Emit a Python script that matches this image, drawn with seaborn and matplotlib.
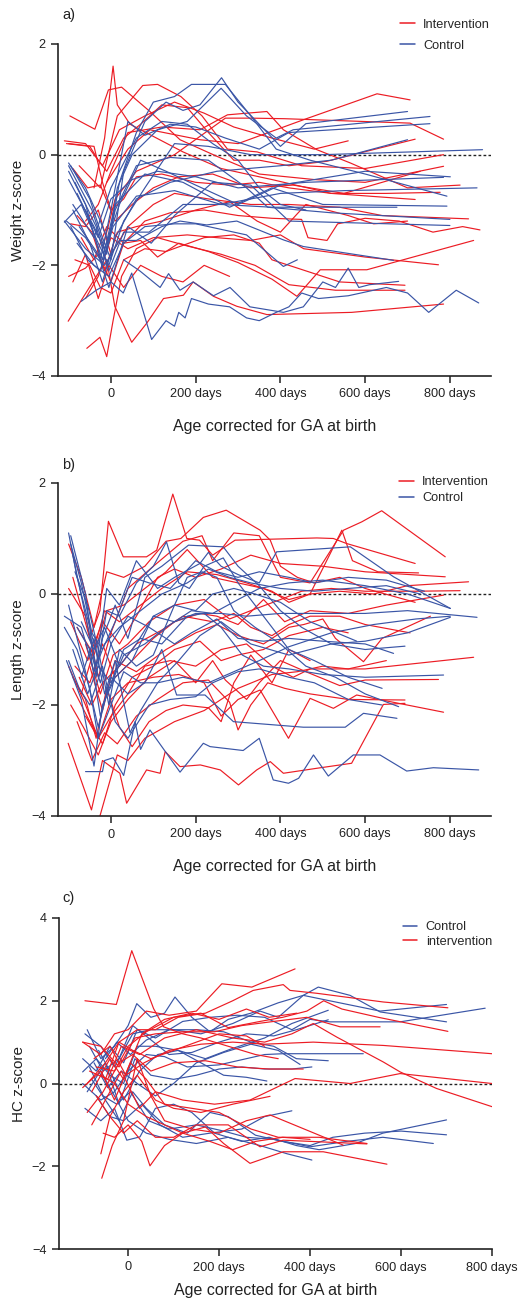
import numpy as np
import pandas as pd
import matplotlib.pyplot as plt
import seaborn as sns

sns.set_theme(style="ticks")
plt.rcParams['font.family'] = ['Liberation Sans', 'DejaVu Sans']

RED = '#EC1C24'
BLUE = '#3A55A6'

# --- a) weight z-score: (days, z) per child
weight_int = [
    [(-97, 0.70), (-38, 0.46), (-6, 1.17), (25, 1.22), (92, 0.78), (163, 0.27), (250, -0.03), (350, -0.35), (480, -0.45), (600, -0.5), (785, -0.21)],
    [(-40, -0.6), (-15, 0.3), (5, 1.6), (15, 0.9), (45, 0.55), (95, 0.35), (170, 0.05), (260, -0.25), (380, -0.45), (520, -0.7), (718, -0.81)],
    [(-75, -0.2), (-25, -0.6), (15, 0.7), (75, 1.25), (110, 1.27), (165, 1.05), (215, 0.7), (275, 0.1), (345, 0.05), (450, -0.2), (600, -0.25), (785, 0.0)],
    [(-60, -1.2), (-30, -0.9), (0, -0.3), (40, 0.4), (120, 0.5), (210, 0.45), (275, 0.72), (368, 0.78), (407, 0.45), (486, 0.09), (565, -0.15), (700, -0.6), (824, -0.55)],
    [(-20, -1.7), (10, -0.8), (60, -0.3), (150, 0.0), (270, 0.66), (330, 0.66), (410, 0.65), (706, 0.57), (785, 0.28)],
    [(-10, -0.5), (40, 0.1), (92, 0.45), (210, 0.27), (300, 0.2), (368, 0.39), (454, 0.63), (628, 1.10), (706, 0.99)],
    [(-105, 0.2), (-50, 0.15), (-30, -0.1), (-10, -0.3), (30, 0.3), (70, 0.55), (120, 0.9), (180, 0.85), (230, 0.4), (290, -0.1), (350, -0.1), (420, -0.2), (509, -0.12), (718, 0.28)],
    [(-100, 0.2), (-40, 0.15), (-20, -0.5), (0, -1.0), (30, -0.8), (60, -0.4), (120, -0.35), (200, -0.5), (280, -0.55), (350, -0.5), (420, -0.6), (520, -0.7), (650, -0.7), (777, -0.68)],
    [(-90, -0.25), (-55, -0.6), (-25, -0.55), (10, -1.2), (50, -0.9), (100, -0.6), (160, -0.4), (240, -0.35), (330, -0.6), (430, -0.55), (550, -0.7), (730, -0.30)],
    [(-95, -1.25), (-60, -1.3), (-30, -1.0), (0, -1.8), (40, -1.3), (100, -0.9), (150, -0.7), (230, -0.8), (330, -0.9), (420, -0.9), (540, -0.95), (640, -1.1), (844, -1.16)],
    [(-80, -1.1), (-45, -1.4), (-15, -2.1), (15, -1.4), (60, -1.3), (120, -1.2), (200, -1.0), (280, -0.85), (345, -1.2), (400, -1.4), (460, -0.9), (560, -1.1), (620, -1.25), (700, -1.2)],
    [(-70, -1.5), (-40, -1.9), (-10, -1.3), (30, -1.6), (80, -1.2), (140, -1.05), (220, -1.0), (300, -1.1), (380, -1.15), (450, -1.17), (465, -1.5), (510, -1.55), (535, -1.25), (600, -1.15), (680, -1.2), (760, -1.4), (830, -1.3), (871, -1.36)],
    [(-100, -2.2), (-60, -2.05), (-30, -1.8), (0, -2.3), (30, -1.6), (70, -1.55), (110, -1.85), (160, -1.6), (230, -1.75), (300, -1.95), (380, -2.25), (439, -2.56), (494, -2.08), (604, -2.08), (856, -1.55)],
    [(-101, -3.01), (-42, -2.29), (-10, -1.9), (9, -2.74), (49, -3.39), (85, -3.04), (124, -2.6), (171, -2.54), (194, -2.3), (242, -2.56), (297, -2.74), (368, -2.89), (568, -2.85), (785, -2.70)],
    [(-57, -3.5), (-26, -3.3), (-10, -3.65), (5, -3.0), (25, -2.2), (60, -1.7), (110, -1.5), (180, -1.65), (260, -1.8), (340, -2.0), (420, -2.35), (530, -2.45), (694, -2.45)],
    [(-85, -1.9), (-50, -2.0), (-25, -2.4), (0, -2.5), (30, -1.9), (80, -1.7), (130, -1.75), (220, -1.5), (290, -1.45), (350, -1.6), (380, -1.9), (460, -2.1), (540, -2.3), (694, -2.36)],
    [(-60, -2.6), (-30, -2.2), (0, -1.5), (40, -1.7), (100, -1.5), (180, -1.45), (250, -1.5), (330, -1.55), (400, -1.45), (455, -1.7), (600, -1.85), (773, -1.99)],
    [(-110, 0.25), (-60, 0.2), (-20, -0.2), (20, 0.45), (80, 0.7), (150, 0.95), (220, 0.75), (290, 0.5), (380, 0.3), (480, 0.1), (560, 0.25)],
    [(-90, -2.3), (-60, -1.8), (-30, -2.6), (-5, -2.0), (30, -2.4), (70, -2.0), (120, -2.2), (170, -2.3), (220, -2.0), (280, -2.2)],
]
weight_ctl = [
    [(-100, -0.15), (-60, -0.6), (-25, -1.2), (-5, -1.6), (20, -0.5), (60, 0.4), (100, 0.95), (150, 1.05), (190, 1.27), (270, 1.27), (330, 0.7), (390, 0.1), (470, -0.1), (600, -0.35), (793, -0.75)],
    [(-95, -0.2), (-50, -0.8), (-20, -1.5), (0, -1.9), (30, -0.3), (80, 0.6), (130, 0.95), (170, 0.8), (210, 0.9), (261, 1.39), (300, 0.95), (350, 0.55), (400, 0.15), (460, 0.56), (700, 0.78)],
    [(-100, -0.45), (-40, -1.3), (-10, -1.8), (15, -0.6), (50, 0.0), (110, 0.45), (180, 0.6), (260, 1.2), (320, 0.7), (390, 0.3), (430, 0.45), (753, 0.69)],
    [(-105, -1.2), (-60, -1.5), (-25, -1.9), (0, -1.0), (40, 0.6), (80, 0.35), (140, 0.55), (200, 0.5), (270, 0.3), (350, 0.1), (420, 0.4), (753, 0.56)],
    [(-110, -1.22), (-70, -0.9), (-30, -1.6), (-5, -2.0), (30, -1.2), (80, -0.6), (150, 0.2), (230, 0.15), (330, 0.0), (500, 0.0), (877, 0.09)],
    [(-90, -1.0), (-50, -1.6), (-20, -2.3), (10, -1.5), (60, -0.8), (140, -0.5), (250, -0.3), (400, -0.2), (520, -0.1), (700, 0.27)],
    [(-100, -0.2), (-45, -1.0), (-15, -1.7), (20, -0.9), (70, -0.1), (130, -0.3), (200, -0.55), (300, -0.9), (400, -0.55), (600, -0.3), (801, -0.40)],
    [(-80, -0.7), (-30, -1.5), (0, -0.8), (50, -0.45), (110, -0.3), (200, -0.4), (300, -0.6), (460, -0.5), (785, -0.41)],
    [(-95, -1.3), (-55, -1.9), (-25, -2.1), (5, -1.3), (60, -0.75), (150, -0.65), (260, -0.9), (400, -0.7), (550, -0.65), (864, -0.60)],
    [(-60, -1.0), (-20, -1.9), (10, -0.9), (80, -0.35), (170, -0.5), (280, -0.95), (380, -0.6), (500, -0.9), (793, -0.93)],
    [(-85, -0.5), (-35, -1.3), (-5, -2.1), (30, -1.4), (90, -1.4), (170, -0.9), (260, -0.9), (380, -0.95), (675, -0.95)],
    [(-100, -0.3), (-60, -0.9), (-20, -2.0), (10, -1.0), (60, -0.2), (140, -0.05), (230, -0.1), (320, -0.6), (370, -0.95), (520, -1.05), (800, -1.17)],
    [(-75, -1.3), (-30, -1.8), (-5, -2.4), (40, -1.3), (95, -1.6), (150, -1.1), (240, -0.5), (330, -0.55), (420, -1.2), (800, -1.28)],
    [(-110, -1.2), (-60, -1.7), (-15, -2.0), (20, -1.55), (60, -1.55), (120, -1.3), (163, -1.2), (226, -1.27), (297, -1.2), (407, -1.54), (454, -1.66), (667, -1.91)],
    [(-80, -1.6), (-40, -2.0), (-5, -2.2), (30, -1.6), (80, -1.3), (150, -1.25), (200, -1.25), (320, -1.45), (407, -2.02), (440, -1.9)],
    [(-70, -2.65), (-35, -2.45), (0, -2.3), (29, -2.5), (49, -2.14), (96, -3.34), (130, -3.0), (150, -3.1), (160, -2.85), (175, -2.95), (190, -2.6), (230, -2.7), (280, -2.75), (320, -2.95), (350, -3.0), (390, -2.85), (420, -2.75), (450, -2.5), (490, -2.6), (560, -2.55), (650, -2.4), (700, -2.5), (750, -2.85), (815, -2.45), (868, -2.68)],
    [(30, -1.9), (68, -2.1), (116, -2.4), (136, -2.15), (163, -2.45), (194, -2.3), (242, -2.55), (281, -2.4), (328, -2.75), (407, -2.85), (454, -2.75), (500, -2.3), (530, -2.4), (560, -2.05), (585, -2.4), (610, -2.35), (679, -2.29)],
    [(-90, -0.9), (-40, -1.5), (0, -0.6), (60, 0.3), (120, 0.6), (180, 0.55), (240, 0.2), (300, -0.1), (350, -0.6), (400, -0.9), (460, -1.0)],
]

# --- b) length z-score
length_int = [
    [(-100, 0.9), (-70, 0.3), (-40, -0.6), (-10, 0.4), (30, 0.3), (80, 0.5), (130, 0.95), (165, 1.0), (218, 1.38), (272, 1.51), (352, 1.15), (376, 0.97), (400, 0.5), (440, 0.3), (480, 0.2), (540, 0.3), (600, 0.1), (718, -0.15)],
    [(-90, 0.3), (-50, -0.8), (-26, -0.3), (-6, 1.31), (29, 0.67), (84, 0.67), (108, 0.79), (146, 1.80), (179, 1.0), (209, 0.97), (240, 0.7), (293, 0.97), (486, 1.01), (525, 1.0), (556, 0.91), (718, 0.55)],
    [(-100, 0.1), (-60, -0.4), (-30, -1.5), (0, -0.7), (40, 0.1), (100, 0.5), (170, 0.95), (215, 1.05), (240, 0.6), (290, 1.1), (350, 1.05), (400, 0.3), (470, 0.2), (549, 1.15), (592, 1.30), (639, 1.50), (789, 0.67)],
    [(-80, -0.6), (-40, -1.1), (-10, -0.3), (30, -0.2), (80, 0.1), (130, 0.4), (180, 0.8), (240, 0.3), (300, 0.2), (360, 0.1), (420, -0.1), (470, 0.0), (545, 1.15), (570, 0.6), (630, 0.4), (726, 0.38)],
    [(-95, -0.5), (-55, -1.2), (-20, -0.5), (20, -0.9), (60, -0.4), (110, 0.3), (150, 0.45), (200, 0.3), (260, 0.45), (330, 0.7), (400, 0.55), (500, 0.5), (600, 0.4), (789, 0.31)],
    [(-70, -1.8), (-40, -1.0), (-15, -0.3), (20, -0.5), (70, -0.2), (120, 0.1), (180, 0.4), (250, 0.35), (320, 0.2), (380, 0.05), (420, -0.15), (470, 0.0), (540, 0.05), (620, 0.0), (700, 0.15), (844, 0.22)],
    [(-60, -0.9), (-25, -1.8), (5, -1.1), (40, -0.9), (90, -0.5), (150, -0.2), (220, -0.1), (280, -0.45), (330, -0.3), (400, -0.1), (450, 0.05), (520, 0.1), (600, 0.05), (720, 0.05), (824, 0.06)],
    [(-85, -1.3), (-50, -1.6), (-20, -0.9), (10, -1.5), (50, -1.2), (100, -0.8), (150, -0.5), (210, -0.35), (250, -0.4), (300, -0.55), (360, -0.1), (410, -0.5), (470, -0.3), (560, -0.35), (650, -0.2), (785, -0.02)],
    [(-75, -1.5), (-45, -2.0), (-20, -1.6), (20, -1.3), (60, -0.9), (120, -0.65), (170, -0.4), (240, -0.5), (290, -0.35), (330, -0.6), (380, -0.75), (420, -0.55), (470, -0.4), (540, -0.4), (600, -0.55), (706, -0.70)],
    [(-50, -1.3), (-20, -2.1), (10, -1.2), (60, -1.4), (130, -1.0), (200, -0.7), (250, -0.55), (300, -0.75), (360, -0.9), (420, -0.6), (455, -0.55), (500, -0.45), (530, -0.8), (596, -1.22), (640, -0.8), (754, -0.40)],
    [(-90, -1.7), (-50, -2.3), (-20, -2.7), (10, -2.0), (50, -1.5), (100, -1.3), (150, -1.0), (210, -0.85), (260, -1.2), (300, -1.1), (360, -1.0), (420, -0.75), (500, -0.6), (560, -0.7)],
    [(-100, -1.3), (-60, -2.0), (-30, -2.6), (0, -2.2), (40, -1.8), (80, -1.3), (140, -1.2), (200, -1.3), (260, -1.0), (320, -0.9), (380, -1.3), (430, -1.5), (470, -1.35), (600, -1.35), (856, -1.14)],
    [(-95, -2.0), (-65, -2.4), (-30, -2.9), (0, -2.3), (40, -1.9), (90, -1.5), (150, -1.2), (200, -1.6), (240, -1.2), (270, -1.55), (320, -1.9), (350, -1.6), (400, -1.2), (460, -1.4), (540, -1.65), (600, -1.55), (773, -1.54)],
    [(-80, -2.3), (-45, -3.0), (-15, -2.5), (15, -2.7), (60, -2.2), (110, -1.9), (170, -1.6), (230, -1.55), (280, -1.95), (300, -2.45), (330, -2.0), (370, -1.6), (410, -1.7), (470, -1.8), (560, -1.9), (694, -1.91)],
    [(-60, -2.2), (-30, -2.6), (0, -1.9), (40, -1.6), (100, -1.5), (160, -1.45), (220, -1.6), (260, -2.2), (300, -1.9), (352, -1.73), (419, -2.6), (470, -1.88), (525, -2.06), (580, -1.82), (785, -2.13)],
    [(-101, -2.69), (-46, -3.89), (-20, -3.0), (21, -3.23), (37, -3.77), (84, -3.17), (116, -3.23), (128, -2.84), (163, -3.11), (211, -3.08), (258, -3.17), (301, -3.44), (344, -3.17), (376, -3.02), (407, -3.23), (486, -3.14), (568, -3.05), (643, -1.99), (694, -1.97)],
    [(-26, -4.0), (0, -3.3), (15, -2.9), (40, -3.0), (80, -2.6), (150, -2.3), (220, -2.1), (300, -1.7), (380, -1.45), (440, -1.4), (500, -1.3), (560, -1.35), (650, -1.2)],
    [(-90, -1.5), (-60, -1.9), (-35, -2.6), (-10, -1.7), (20, -2.4), (50, -2.75), (90, -2.3), (130, -2.1), (170, -2.0), (230, -2.05), (260, -2.3), (290, -1.6), (330, -1.1), (380, -1.6), (420, -1.0), (470, -1.2)],
]
length_ctl = [
    [(-100, 1.1), (-80, 0.3), (-50, -0.6), (-30, -1.2), (-10, -0.3), (20, -0.4), (60, 0.2), (100, 0.5), (131, 0.94), (160, 0.2), (185, 0.1), (220, 0.5), (265, 0.65), (300, 0.2), (360, -0.4), (420, -1.0), (480, -1.2), (560, -1.5), (640, -1.7)],
    [(-95, 1.05), (-60, 0.0), (-35, -1.5), (-20, -0.8), (10, -0.2), (40, -0.8), (80, 0.3), (120, 0.5), (183, 0.88), (265, 0.85), (300, 0.5), (350, 0.15), (400, -0.3), (450, -0.6), (520, -0.9), (600, -1.0), (694, -0.94)],
    [(-90, 0.7), (-60, -0.4), (-35, -1.3), (-10, 0.1), (20, -0.2), (60, 0.6), (110, 0.1), (150, 0.3), (210, 0.55), (230, 0.75), (260, 0.5), (300, 0.35), (350, 0.2), (391, 0.76), (565, 0.85), (667, 0.31), (801, -0.26)],
    [(-110, -0.4), (-70, -0.6), (-40, -1.4), (-15, -0.9), (20, -0.6), (70, -0.3), (120, 0.0), (180, 0.2), (230, 0.45), (280, 0.3), (330, 0.2), (400, 0.1), (480, 0.05), (560, 0.1), (650, 0.15), (730, 0.0)],
    [(-100, -0.2), (-60, -1.4), (-30, -2.4), (-10, -1.8), (30, -1.1), (80, -0.9), (130, -0.6), (190, -0.3), (240, -0.35), (300, -0.1), (350, 0.1), (420, 0.2), (500, 0.25), (600, 0.15), (700, 0.0), (801, -0.26)],
    [(-105, -1.2), (-70, -1.9), (-40, -3.1), (-20, -2.0), (10, -1.5), (50, -1.2), (100, -0.4), (150, -0.5), (200, -0.35), (260, -0.35), (320, -0.4), (400, -0.35), (500, -0.35), (600, -0.35), (700, -0.3), (864, -0.42)],
    [(-80, -0.6), (-50, -1.0), (-25, -1.6), (0, -0.9), (40, -0.4), (90, -0.6), (150, -0.9), (190, -0.7), (250, -0.45), (300, -0.8), (360, -0.85), (420, -0.8), (500, -0.85), (600, -0.9), (667, -1.07)],
    [(-90, -1.0), (-55, -1.8), (-30, -1.3), (0, -1.6), (30, -1.0), (70, -0.8), (120, -0.9), (180, -0.4), (220, -0.35), (260, -0.6), (310, -1.1), (360, -1.3), (420, -1.35), (500, -1.45), (600, -1.5), (785, -1.46)],
    [(-70, -0.5), (-40, -1.0), (-15, -0.6), (20, -1.3), (60, -0.9), (100, -0.4), (150, -0.2), (200, -0.3), (240, 0.0), (290, 0.1), (340, 0.0), (400, -0.15), (470, -0.5), (580, -0.85)],
    [(-100, -1.2), (-75, -1.7), (-50, -2.0), (-20, -1.3), (10, -2.3), (40, -2.6), (90, -2.0), (140, -1.9), (200, -1.85), (240, -1.6), (300, -1.4), (350, -1.35), (420, -1.5), (480, -1.6), (560, -1.9), (640, -2.0)],
    [(-60, -3.2), (-20, -3.2), (-15, -3.0), (5, -2.95), (30, -3.27), (57, -2.3), (70, -2.8), (92, -2.45), (163, -3.21), (218, -2.69), (234, -2.75), (312, -2.82), (350, -2.6), (383, -3.35), (419, -3.41), (443, -3.32), (478, -2.9), (513, -3.28), (572, -2.9), (635, -2.9), (698, -3.19), (761, -3.13), (868, -3.17)],
    [(-50, -1.0), (-25, -2.2), (0, -1.5), (40, -1.8), (80, -1.6), (120, -1.0), (155, -1.82), (222, -1.82), (289, -2.30), (454, -2.40), (553, -2.40), (596, -2.15), (675, -2.24)],
    [(-110, -0.6), (-80, -1.0), (-50, -1.7), (-30, -2.6), (0, -2.0), (30, -1.4), (70, -1.6), (110, -1.6), (160, -1.2), (210, -0.75), (260, -0.5), (330, -0.9), (420, -1.1), (520, -0.9), (600, -0.85), (700, -0.7), (801, -0.42)],
    [(-95, 0.9), (-70, 0.2), (-45, -0.7), (-20, -1.0), (10, -0.5), (50, 0.3), (90, 0.2), (140, 0.1), (200, 0.6), (250, 0.4), (300, 0.3), (350, 0.4), (420, 0.3), (480, 0.2), (560, 0.3), (650, 0.25), (740, 0.05)],
    [(-85, 0.4), (-55, -0.2), (-30, -1.0), (-5, -2.0), (20, -1.0), (60, -1.3), (100, -1.1), (150, -0.2), (180, 0.3), (215, 0.4), (250, 0.3), (290, -0.3), (340, -0.6), (400, -0.9), (460, -1.3), (530, -1.5), (600, -1.8), (679, -2.03)],
    [(-70, -1.5), (-40, -0.8), (-15, -1.8), (10, -1.2), (45, -2.5), (70, -2.1), (110, -1.6), (170, -1.5), (230, -1.6), (290, -1.4), (350, -1.2), (420, -0.95), (520, -0.7), (620, -0.55), (720, -0.45), (801, -0.4)],
]

# --- c) head circumference z-score
hc_int = [
    [(-95, 2.0), (-26, 1.91), (8, 3.21), (56, 1.81), (78, 1.37), (120, 1.2), (160, 1.1), (220, 0.9), (280, 0.7), (330, 0.6)],
    [(-100, 1.0), (-60, 0.7), (-30, 1.2), (0, 1.3), (40, 1.75), (90, 1.65), (150, 1.75), (206, 2.41), (272, 2.33), (367, 2.77)],
    [(-90, 0.0), (-50, 0.5), (-20, 1.0), (20, 1.3), (60, 1.3), (110, 1.6), (170, 1.7), (230, 2.0), (275, 2.25), (341, 2.39), (356, 2.25), (415, 2.18), (561, 1.97), (703, 1.83)],
    [(-80, -0.2), (-40, 0.6), (-10, 0.1), (30, 1.2), (80, 1.55), (140, 1.7), (200, 1.55), (260, 1.8), (310, 1.6), (371, 1.70)],
    [(-70, 0.4), (-30, 0.3), (0, 0.9), (40, 1.25), (100, 1.6), (160, 1.7), (220, 1.35), (290, 1.5), (340, 1.6), (393, 1.75), (430, 2.0), (470, 1.8), (550, 1.6), (703, 1.26)],
    [(-100, 1.0), (-60, 0.9), (-20, 0.4), (15, 1.1), (60, 1.2), (120, 1.25), (190, 1.25), (250, 1.4), (320, 1.5), (393, 1.6), (466, 1.37), (554, 1.37)],
    [(-85, 0.3), (-45, 0.1), (-15, 0.9), (25, 0.7), (80, 1.1), (150, 1.3), (230, 1.1), (300, 1.0), (360, 1.2), (407, 1.45), (459, 1.12), (561, 0.52), (598, 0.28), (678, -0.12), (800, -0.56)],
    [(-75, 0.6), (-40, 0.9), (-5, 0.2), (35, 0.5), (90, 0.8), (160, 0.95), (230, 1.0), (300, 0.95), (407, 1.0), (561, 0.92), (800, 0.72)],
    [(-90, -0.7), (-55, -0.2), (-20, 0.5), (10, 0.7), (50, 0.3), (100, 0.5), (170, 0.55), (240, 0.4), (310, 0.35), (385, 0.35)],
    [(-80, -1.0), (-45, -0.3), (-15, 0.3), (25, -0.6), (60, -0.2), (120, -0.4), (190, -0.5), (268, -0.4), (367, 0.12), (488, 0.0), (598, 0.24), (800, 0.0)],
    [(-60, -1.7), (-40, -0.8), (-10, -0.2), (20, 0.2), (60, -0.4), (100, -0.6), (160, -0.7), (230, -0.5), (312, -0.31)],
    [(-58, -2.29), (-35, -1.5), (-10, -0.9), (20, 0.6), (50, -0.3), (80, -0.9), (140, -1.1), (200, -1.2), (260, -0.9), (312, -0.76), (473, -1.49)],
    [(-55, -1.2), (-30, -1.3), (0, -1.0), (30, -1.4), (48, -1.99), (80, -1.5), (120, -1.2), (170, -1.05), (210, -1.45), (268, -1.93), (341, -1.65), (429, -1.65), (569, -1.95)],
    [(-70, -0.3), (-40, -0.8), (-10, -1.2), (20, -0.9), (60, -1.3), (100, -1.3), (150, -1.0), (220, -1.0), (290, -1.53), (341, -1.37), (525, -1.46)],
    [(-100, -0.1), (-60, 0.3), (-30, -0.4), (5, 0.5), (40, 0.1), (80, -0.5), (140, -0.6), (200, -0.7), (270, -1.1), (330, -1.3), (420, -1.3), (525, -1.45)],
    [(-50, 0.1), (-20, 1.0), (10, 0.8), (50, 0.6), (100, 0.8), (150, 1.0), (200, 1.2), (260, 1.15), (300, 0.9)],
    [(-60, 0.2), (-30, 0.0), (0, -0.5), (40, -0.8), (80, -1.0), (120, -1.2), (180, -1.4), (230, -1.6), (280, -1.4), (340, -1.3), (400, -1.35)],
]
hc_ctl = [
    [(-90, 1.3), (-60, 0.6), (-30, 0.9), (0, 1.4), (19, 1.93), (50, 1.6), (80, 1.7), (103, 2.09), (140, 1.6), (180, 1.25), (220, 1.55), (270, 1.7), (330, 1.95), (385, 2.13), (418, 2.33), (488, 2.13), (554, 1.73), (700, 1.49)],
    [(-95, 1.2), (-60, 0.9), (-30, 0.4), (10, 1.2), (50, 1.3), (100, 1.3), (160, 1.2), (230, 1.45), (290, 1.75), (330, 1.6), (385, 2.13), (554, 1.75), (700, 1.91)],
    [(-100, 0.6), (-70, 0.3), (-40, 0.9), (-10, 0.5), (20, 1.3), (60, 1.1), (120, 1.5), (180, 1.6), (240, 1.65), (300, 1.6), (360, 1.3), (400, 1.55), (444, 1.49), (598, 1.49), (785, 1.82)],
    [(-85, 0.9), (-55, 0.3), (-20, 0.6), (10, 1.4), (45, 1.1), (90, 0.7), (140, 0.75), (200, 1.0), (260, 1.2), (320, 1.15), (370, 1.3), (440, 1.54)],
    [(-100, 0.28), (-70, 0.6), (-40, 0.2), (-10, 0.0), (20, 0.9), (60, 0.9), (110, 0.8), (170, 0.6), (230, 0.85), (300, 1.1), (360, 1.45), (440, 1.77)],
    [(-100, 0.0), (-60, -0.4), (-30, -0.2), (0, 0.3), (40, 0.7), (80, 0.65), (130, 0.4), (200, 0.45), (260, 0.6), (300, 0.7), (341, 0.72), (517, 0.72)],
    [(-75, 0.5), (-45, -0.1), (-15, 0.3), (20, 0.0), (60, -0.3), (100, 0.0), (150, 0.5), (210, 0.75), (270, 0.95), (330, 0.8), (378, 0.46)],
    [(-90, -0.2), (-50, 0.5), (-20, -0.5), (15, 0.6), (50, 0.2), (100, 0.1), (150, 0.2), (200, 0.35), (250, 0.4), (300, 0.35), (360, 0.35), (404, 0.40)],
    [(-65, 0.8), (-40, 0.3), (-10, -0.4), (25, 0.3), (65, 0.7), (110, 0.8), (160, 0.5), (210, 0.2), (260, 0.15), (305, 0.06)],
    [(-95, -0.6), (-60, -0.9), (-30, -0.6), (-3, -1.37), (26, -1.29), (60, -0.6), (100, -0.5), (140, -0.7), (190, -1.2), (250, -1.4), (310, -1.3), (370, -1.5), (420, -1.6), (500, -1.45), (560, -1.2), (700, -0.88)],
    [(-80, 0.1), (-50, -0.4), (-20, -0.9), (10, -0.2), (40, -0.6), (80, -1.0), (130, -1.2), (180, -0.7), (220, -0.8), (280, -1.25), (340, -1.4), (400, -1.5), (450, -1.3), (520, -1.2), (600, -1.15), (700, -1.24)],
    [(-70, -0.3), (-40, -0.8), (-10, -0.9), (30, -0.5), (70, -1.0), (120, -1.3), (180, -1.2), (250, -1.1), (300, -0.8), (360, -0.66)],
    [(-60, 0.3), (-30, -0.3), (0, -0.9), (40, -1.2), (90, -1.35), (150, -1.45), (220, -1.3), (290, -1.5), (350, -1.7), (404, -1.85)],
    [(-85, 0.4), (-55, -0.3), (-25, -0.5), (5, -0.2), (45, -0.9), (90, -1.1), (150, -1.0), (210, -1.15), (260, -1.3), (320, -1.35), (400, -1.53), (480, -1.4), (560, -1.3), (671, -1.45)],
    [(-50, 0.6), (-25, 1.0), (5, 0.7), (40, 1.05), (90, 1.3), (150, 1.3), (210, 1.25), (270, 1.0), (320, 0.9), (370, 0.6), (440, 0.55)],
]


def long_table(lines, group):
    rows = []
    for i, pts in enumerate(lines):
        for d, z in pts:
            rows.append({'id': f'{group}{i}', 'group': group, 'day': d, 'z': z})
    return rows


panels = [
    ('a)', 'Weight z-score', weight_int, weight_ctl, ['Intervention', 'Control'], (-125, 897), (-4, 2)),
    ('b)', 'Length z-score', length_int, length_ctl, ['Intervention', 'Control'], (-125, 897), (-4, 2)),
    ('c)', 'HC z-score', hc_int, hc_ctl, ['Control', 'intervention'], (-152, 800), (-4, 4)),
]
rects = [
    [58 / 520, 1 - 376 / 1300, 433 / 520, 332 / 1300],
    [58 / 520, 1 - 816 / 1300, 433 / 520, 333 / 1300],
    [59 / 520, 1 - 1249 / 1300, 433 / 520, 331 / 1300],
]
tags_y = [15, 465, 898]
leg_anchor = [(0.79, 1.076, 0.70), (0.788, 1.021, 0.35), (0.794, 0.991, 0.23)]
labelpads = [13, 13, 7]

fig = plt.figure(figsize=(5.2, 13), dpi=100)

for k, (tag, ylab, ints, ctls, order, xl, yl) in enumerate(panels):
    ax = fig.add_axes(rects[k])
    int_name = order[1] if k == 2 else order[0]
    df = pd.DataFrame(long_table(ints, int_name) + long_table(ctls, 'Control'))
    pal = {int_name: RED, 'Control': BLUE}
    ax.axhline(0, color='#222222', lw=1.0, ls=(0, (2, 1.6)), zorder=1)
    sns.lineplot(data=df, x='day', y='z', hue='group', units='id', estimator=None,
                 sort=False, palette=pal, hue_order=order, linewidth=0.85, ax=ax, zorder=2)
    ax.set_xlim(*xl)
    ax.set_ylim(*yl)
    ax.set_xticks([0, 200, 400, 600, 800])
    ax.set_xticklabels(['0', '200 days', '400 days', '600 days', '800 days'])
    ax.set_yticks(np.arange(yl[0], yl[1] + 1, 2))
    ax.tick_params(axis='both', direction='out', length=5, width=1.1, labelsize=9.2,
                   color='#222222', labelcolor='#222222', pad=4)
    for s in ['left', 'bottom']:
        ax.spines[s].set_linewidth(1.2)
        ax.spines[s].set_color('#222222')
    sns.despine(ax=ax)
    ax.set_xlabel('Age corrected for GA at birth', fontsize=11.5, color='#222222', labelpad=labelpads[k])
    ax.set_ylabel(ylab, fontsize=11, color='#222222', labelpad=8)
    ax.yaxis.set_label_coords(-0.077, 0.5)
    h, l = ax.get_legend_handles_labels()
    ax.legend(h, l, loc='upper left', bbox_to_anchor=leg_anchor[k][:2], frameon=False,
              fontsize=9.2, handlelength=1.15, handletextpad=0.65, borderpad=0,
              borderaxespad=0, labelspacing=leg_anchor[k][2])
    for line in ax.get_legend().get_lines():
        line.set_linewidth(1.1)
    fig.text(62 / 520, 1 - tags_y[k] / 1300, tag, fontsize=10.5, va='center', color='#222222')

fig.savefig('out.png', dpi=100)
